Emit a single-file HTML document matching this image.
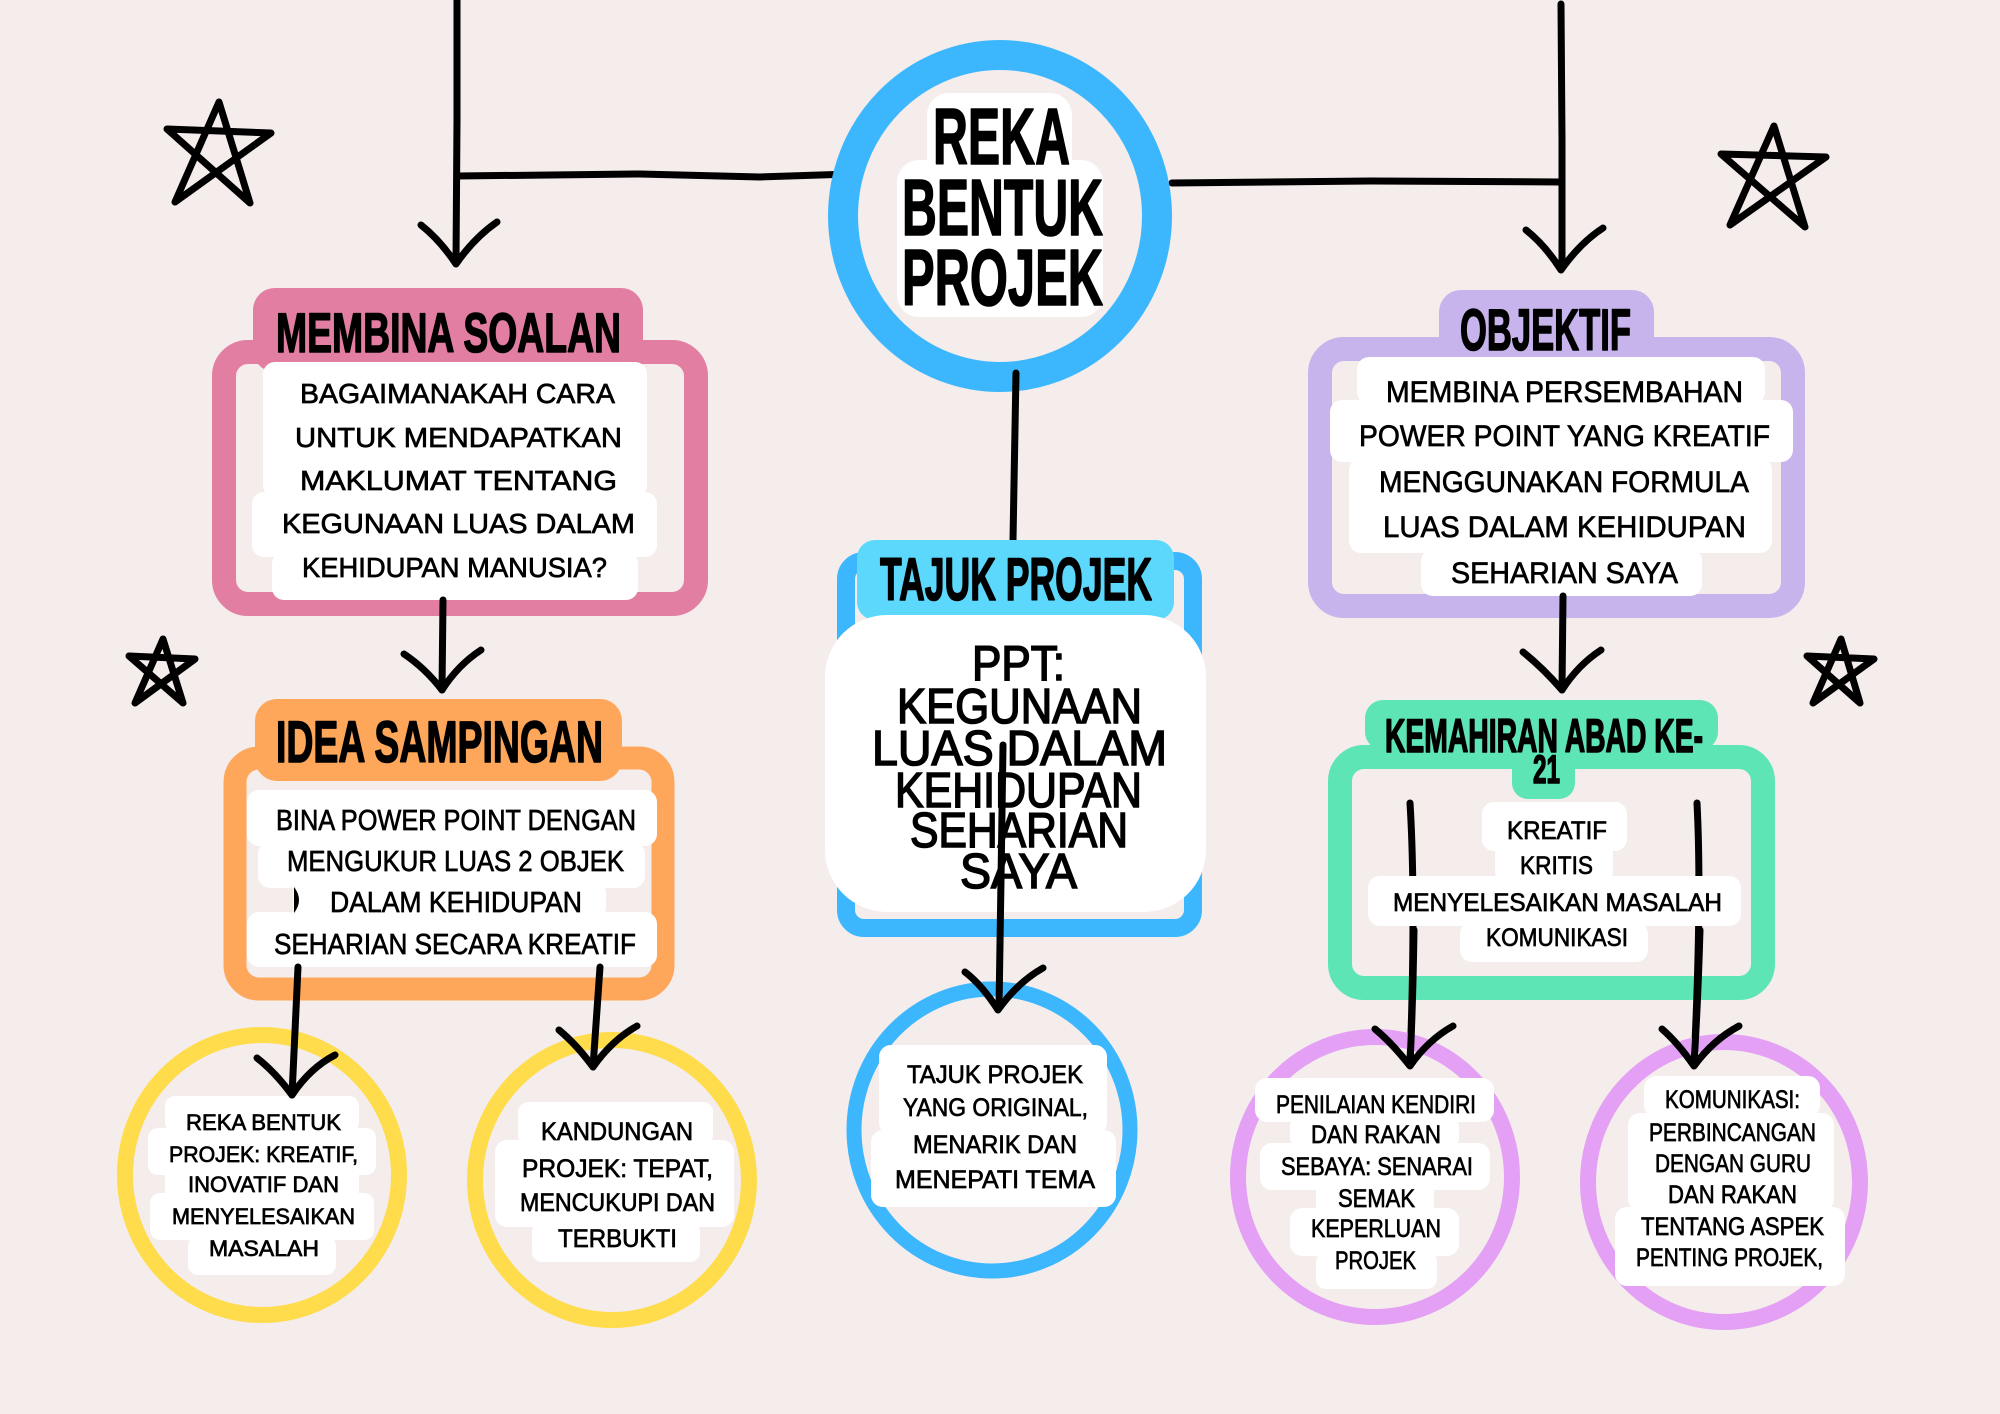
<!DOCTYPE html>
<html>
<head>
<meta charset="utf-8">
<style>
html,body{margin:0;padding:0;background:#f5ecec;}
svg{display:block;}
.h{font-family:"Liberation Sans",sans-serif;font-weight:bold;fill:#000;stroke:#000;stroke-width:1.6;stroke-linejoin:round;}
.t{font-family:"Liberation Sans",sans-serif;font-weight:normal;fill:#000;stroke:#000;stroke-width:0.7;}
.ln{fill:none;stroke:#000;stroke-width:7;stroke-linecap:round;stroke-linejoin:round;}
</style>
</head>
<body>
<svg width="2000" height="1414" viewBox="0 0 2000 1414" xmlns="http://www.w3.org/2000/svg">
<rect x="0" y="0" width="2000" height="1414" fill="#f5ecec"/>

<!-- ===== connectors top ===== -->
<path class="ln" d="M457,0 L457,120 L456,262"/>
<path class="ln" d="M457,176 L640,174 L760,177 L851,174"/>
<path class="ln" d="M421,225 Q440,240 456,264 Q474,238 497,222"/>

<path class="ln" d="M1561,4 L1562,140 L1562,268"/>
<path class="ln" d="M1172,183 L1370,181 L1561,182"/>
<path class="ln" d="M1526,230 Q1545,245 1561,270 Q1580,243 1603,228"/>

<!-- stars -->
<path class="ln" d="M219,102 L175,202 L271,133 L167,129 L250,203 Z"/>
<path class="ln" d="M163,639 L135,703 L195,659 L129,656 L183,703 Z"/>
<path class="ln" d="M1774,126 L1730,225 L1826,157 L1721,154 L1805,227 Z"/>
<path class="ln" d="M1841,639 L1813,703 L1874,659 L1807,656 L1860,703 Z"/>

<!-- ===== center circle ===== -->
<ellipse cx="1000" cy="216" rx="157" ry="161" fill="none" stroke="#3cb7fd" stroke-width="30"/>
<path d="M1016,373 L1013,540" class="ln"/>
<rect x="927" y="93" width="145" height="90" rx="22" fill="#fff"/>
<rect x="897" y="160" width="206" height="157" rx="22" fill="#fff"/>
<text class="h" x="933" y="164" font-size="80" textLength="137" lengthAdjust="spacingAndGlyphs">REKA</text>
<text class="h" x="902" y="235" font-size="80" textLength="201" lengthAdjust="spacingAndGlyphs">BENTUK</text>
<text class="h" x="902" y="305" font-size="80" textLength="201" lengthAdjust="spacingAndGlyphs">PROJEK</text>

<!-- ===== MEMBINA SOALAN ===== -->
<rect x="224" y="352" width="472" height="252" rx="24" fill="none" stroke="#e27ea2" stroke-width="24"/>
<rect x="253" y="288" width="390" height="84" rx="22" fill="#e27ea2"/>
<text class="h" x="276" y="352" font-size="56" textLength="345" lengthAdjust="spacingAndGlyphs">MEMBINA SOALAN</text>
<rect x="263" y="362" width="384" height="135" rx="12" fill="#fff"/>
<rect x="252" y="492" width="405" height="65" rx="12" fill="#fff"/>
<rect x="272" y="552" width="366" height="48" rx="12" fill="#fff"/>
<text class="t" x="300" y="403" font-size="28" textLength="315" lengthAdjust="spacingAndGlyphs">BAGAIMANAKAH CARA</text>
<text class="t" x="295" y="447" font-size="28" textLength="327" lengthAdjust="spacingAndGlyphs">UNTUK MENDAPATKAN</text>
<text class="t" x="300" y="490" font-size="28" textLength="317" lengthAdjust="spacingAndGlyphs">MAKLUMAT TENTANG</text>
<text class="t" x="282" y="533" font-size="28" textLength="353" lengthAdjust="spacingAndGlyphs">KEGUNAAN LUAS DALAM</text>
<text class="t" x="302" y="577" font-size="28" textLength="305" lengthAdjust="spacingAndGlyphs">KEHIDUPAN MANUSIA?</text>
<path class="ln" d="M443,600 L442,690"/>
<path class="ln" d="M404,654 Q425,668 442,690 Q458,665 481,650"/>

<!-- ===== OBJEKTIF ===== -->
<rect x="1320" y="349" width="473" height="257" rx="24" fill="none" stroke="#c8b4ec" stroke-width="24"/>
<rect x="1439" y="290" width="215" height="81" rx="22" fill="#c8b4ec"/>
<text class="h" x="1460" y="350" font-size="58" textLength="171" lengthAdjust="spacingAndGlyphs">OBJEKTIF</text>
<rect x="1357" y="357" width="408" height="47" rx="12" fill="#fff"/>
<rect x="1330" y="400" width="463" height="62" rx="12" fill="#fff"/>
<rect x="1349" y="458" width="423" height="95" rx="12" fill="#fff"/>
<rect x="1421" y="549" width="281" height="47" rx="12" fill="#fff"/>
<text class="t" x="1386" y="402" font-size="30" textLength="357" lengthAdjust="spacingAndGlyphs">MEMBINA PERSEMBAHAN</text>
<text class="t" x="1359" y="446" font-size="30" textLength="411" lengthAdjust="spacingAndGlyphs">POWER POINT YANG KREATIF</text>
<text class="t" x="1379" y="492" font-size="30" textLength="370" lengthAdjust="spacingAndGlyphs">MENGGUNAKAN FORMULA</text>
<text class="t" x="1383" y="537" font-size="30" textLength="363" lengthAdjust="spacingAndGlyphs">LUAS DALAM KEHIDUPAN</text>
<text class="t" x="1451" y="583" font-size="30" textLength="227" lengthAdjust="spacingAndGlyphs">SEHARIAN SAYA</text>
<path class="ln" d="M1563,596 L1562,690"/>
<path class="ln" d="M1523,652 Q1543,668 1562,690 Q1578,665 1601,650"/>

<!-- ===== TAJUK PROJEK ===== -->
<rect x="846" y="561" width="347" height="367" rx="18" fill="none" stroke="#3cb7fd" stroke-width="18"/>
<rect x="857" y="540" width="317" height="80" rx="18" fill="#5cd8fd"/>
<text class="h" x="880" y="600" font-size="60" textLength="272" lengthAdjust="spacingAndGlyphs">TAJUK PROJEK</text>
<rect x="825" y="615" width="381" height="297" rx="62" fill="#fff"/>
<g class="t" style="stroke-width:1.6">
<text x="972" y="680" font-size="49" textLength="93" lengthAdjust="spacingAndGlyphs">PPT:</text>
<text x="897" y="723" font-size="49" textLength="245" lengthAdjust="spacingAndGlyphs">KEGUNAAN</text>
<text x="872" y="765" font-size="49" textLength="295" lengthAdjust="spacingAndGlyphs">LUAS DALAM</text>
<text x="895" y="807" font-size="49" textLength="247" lengthAdjust="spacingAndGlyphs">KEHIDUPAN</text>
<text x="910" y="847" font-size="49" textLength="218" lengthAdjust="spacingAndGlyphs">SEHARIAN</text>
<text x="960" y="888" font-size="49" textLength="117" lengthAdjust="spacingAndGlyphs">SAYA</text>
</g>

<!-- ===== IDEA SAMPINGAN ===== -->
<rect x="235" y="758" width="428" height="231" rx="24" fill="none" stroke="#fea75a" stroke-width="23"/>
<rect x="255" y="699" width="367" height="82" rx="22" fill="#fea75a"/>
<text class="h" x="276" y="762" font-size="58" textLength="327" lengthAdjust="spacingAndGlyphs">IDEA SAMPINGAN</text>
<rect x="247" y="790" width="410" height="56" rx="12" fill="#fff"/>
<rect x="258" y="842" width="387" height="46" rx="12" fill="#fff"/>
<rect x="293" y="884" width="313" height="32" rx="8" fill="#fff"/>
<rect x="247" y="912" width="410" height="55" rx="12" fill="#fff"/>
<path d="M294,887 Q304,900 294,913 Z" fill="#000"/>
<text class="t" x="276" y="830" font-size="29" textLength="360" lengthAdjust="spacingAndGlyphs">BINA POWER POINT DENGAN</text>
<text class="t" x="287" y="871" font-size="29" textLength="337" lengthAdjust="spacingAndGlyphs">MENGUKUR LUAS 2 OBJEK</text>
<text class="t" x="330" y="912" font-size="29" textLength="252" lengthAdjust="spacingAndGlyphs">DALAM KEHIDUPAN</text>
<text class="t" x="274" y="954" font-size="29" textLength="362" lengthAdjust="spacingAndGlyphs">SEHARIAN SECARA KREATIF</text>

<!-- ===== KEMAHIRAN ===== -->
<rect x="1340" y="757" width="423" height="231" rx="24" fill="none" stroke="#5ee5b6" stroke-width="24"/>
<rect x="1365" y="700" width="353" height="50" rx="18" fill="#5ee5b6"/>
<rect x="1512" y="735" width="63" height="64" rx="16" fill="#5ee5b6"/>
<text class="h" x="1385" y="752" font-size="47" textLength="318" lengthAdjust="spacingAndGlyphs">KEMAHIRAN ABAD KE-</text>
<text class="h" x="1533" y="783" font-size="40" textLength="27" lengthAdjust="spacingAndGlyphs">21</text>
<path class="ln" d="M1410,803 Q1416,900 1410,1064"/>
<path class="ln" d="M1697,803 Q1702,900 1694,1064"/>
<rect x="1482" y="802" width="145" height="49" rx="12" fill="#fff"/>
<rect x="1495" y="845" width="118" height="35" rx="8" fill="#fff"/>
<rect x="1368" y="876" width="373" height="50" rx="12" fill="#fff"/>
<rect x="1460" y="922" width="188" height="40" rx="12" fill="#fff"/>
<text class="t" x="1507" y="839" font-size="25" textLength="100" lengthAdjust="spacingAndGlyphs">KREATIF</text>
<text class="t" x="1520" y="874" font-size="25" textLength="73" lengthAdjust="spacingAndGlyphs">KRITIS</text>
<text class="t" x="1393" y="911" font-size="25" textLength="329" lengthAdjust="spacingAndGlyphs">MENYELESAIKAN MASALAH</text>
<text class="t" x="1486" y="946" font-size="25" textLength="142" lengthAdjust="spacingAndGlyphs">KOMUNIKASI</text>

<!-- ===== bottom circles ===== -->
<!-- yellow 1 -->
<ellipse cx="262" cy="1175" rx="137" ry="140" fill="none" stroke="#fedc4c" stroke-width="16"/>
<rect x="165" y="1096" width="194" height="36" rx="10" fill="#fff"/>
<rect x="148" y="1128" width="228" height="47" rx="10" fill="#fff"/>
<rect x="165" y="1170" width="194" height="27" rx="6" fill="#fff"/>
<rect x="150" y="1193" width="224" height="47" rx="10" fill="#fff"/>
<rect x="188" y="1236" width="148" height="39" rx="10" fill="#fff"/>
<text class="t" x="186" y="1130" font-size="22" textLength="155" lengthAdjust="spacingAndGlyphs">REKA BENTUK</text>
<text class="t" x="169" y="1162" font-size="22" textLength="189" lengthAdjust="spacingAndGlyphs">PROJEK: KREATIF,</text>
<text class="t" x="188" y="1192" font-size="22" textLength="151" lengthAdjust="spacingAndGlyphs">INOVATIF DAN</text>
<text class="t" x="172" y="1224" font-size="22" textLength="183" lengthAdjust="spacingAndGlyphs">MENYELESAIKAN</text>
<text class="t" x="209" y="1256" font-size="22" textLength="110" lengthAdjust="spacingAndGlyphs">MASALAH</text>
<path class="ln" d="M298,967 L292,1095"/>
<path class="ln" d="M257,1058 Q275,1072 292,1095 Q310,1068 335,1055"/>

<!-- yellow 2 -->
<ellipse cx="612" cy="1180" rx="137" ry="140" fill="none" stroke="#fedc4c" stroke-width="16"/>
<rect x="518" y="1102" width="195" height="43" rx="10" fill="#fff"/>
<rect x="495" y="1140" width="239" height="87" rx="12" fill="#fff"/>
<rect x="532" y="1222" width="168" height="40" rx="10" fill="#fff"/>
<text class="t" x="541" y="1140" font-size="25" textLength="152" lengthAdjust="spacingAndGlyphs">KANDUNGAN</text>
<text class="t" x="522" y="1177" font-size="25" textLength="191" lengthAdjust="spacingAndGlyphs">PROJEK: TEPAT,</text>
<text class="t" x="520" y="1211" font-size="25" textLength="195" lengthAdjust="spacingAndGlyphs">MENCUKUPI DAN</text>
<text class="t" x="558" y="1247" font-size="25" textLength="119" lengthAdjust="spacingAndGlyphs">TERBUKTI</text>
<path class="ln" d="M600,967 L593,1067"/>
<path class="ln" d="M559,1030 Q577,1045 593,1067 Q612,1040 637,1026"/>

<!-- blue circle -->
<ellipse cx="992" cy="1130" rx="138" ry="141" fill="none" stroke="#3cb7fd" stroke-width="15"/>
<rect x="879" y="1045" width="228" height="90" rx="12" fill="#fff"/>
<rect x="871" y="1130" width="245" height="77" rx="12" fill="#fff"/>
<text class="t" x="907" y="1083" font-size="25" textLength="176" lengthAdjust="spacingAndGlyphs">TAJUK PROJEK</text>
<text class="t" x="903" y="1116" font-size="25" textLength="185" lengthAdjust="spacingAndGlyphs">YANG ORIGINAL,</text>
<text class="t" x="913" y="1153" font-size="25" textLength="164" lengthAdjust="spacingAndGlyphs">MENARIK DAN</text>
<text class="t" x="895" y="1188" font-size="25" textLength="200" lengthAdjust="spacingAndGlyphs">MENEPATI TEMA</text>
<!-- central arrow over box -->
<path class="ln" d="M1003,745 L1001,880 L999,1008"/>
<path class="ln" d="M965,972 Q982,985 998,1010 Q1018,982 1043,968"/>

<!-- violet 1 -->
<ellipse cx="1375" cy="1177" rx="137" ry="140" fill="none" stroke="#e3a0f4" stroke-width="16"/>
<rect x="1255" y="1078" width="239" height="44" rx="12" fill="#fff"/>
<rect x="1290" y="1118" width="169" height="28" rx="8" fill="#fff"/>
<rect x="1260" y="1143" width="230" height="47" rx="12" fill="#fff"/>
<rect x="1316" y="1186" width="118" height="25" rx="6" fill="#fff"/>
<rect x="1290" y="1208" width="169" height="48" rx="12" fill="#fff"/>
<rect x="1316" y="1252" width="121" height="37" rx="10" fill="#fff"/>
<text class="t" x="1276" y="1113" font-size="25" textLength="200" lengthAdjust="spacingAndGlyphs">PENILAIAN KENDIRI</text>
<text class="t" x="1311" y="1143" font-size="25" textLength="130" lengthAdjust="spacingAndGlyphs">DAN RAKAN</text>
<text class="t" x="1281" y="1175" font-size="25" textLength="192" lengthAdjust="spacingAndGlyphs">SEBAYA: SENARAI</text>
<text class="t" x="1338" y="1207" font-size="25" textLength="77" lengthAdjust="spacingAndGlyphs">SEMAK</text>
<text class="t" x="1311" y="1237" font-size="25" textLength="130" lengthAdjust="spacingAndGlyphs">KEPERLUAN</text>
<text class="t" x="1335" y="1269" font-size="25" textLength="81" lengthAdjust="spacingAndGlyphs">PROJEK</text>

<!-- violet 2 -->
<ellipse cx="1724" cy="1182" rx="136" ry="140" fill="none" stroke="#e3a0f4" stroke-width="16"/>
<rect x="1644" y="1076" width="176" height="41" rx="12" fill="#fff"/>
<rect x="1628" y="1113" width="206" height="98" rx="12" fill="#fff"/>
<rect x="1615" y="1207" width="230" height="79" rx="12" fill="#fff"/>
<text class="t" x="1665" y="1108" font-size="25" textLength="135" lengthAdjust="spacingAndGlyphs">KOMUNIKASI:</text>
<text class="t" x="1649" y="1141" font-size="25" textLength="167" lengthAdjust="spacingAndGlyphs">PERBINCANGAN</text>
<text class="t" x="1655" y="1172" font-size="25" textLength="156" lengthAdjust="spacingAndGlyphs">DENGAN GURU</text>
<text class="t" x="1668" y="1203" font-size="25" textLength="129" lengthAdjust="spacingAndGlyphs">DAN RAKAN</text>
<text class="t" x="1641" y="1235" font-size="25" textLength="183" lengthAdjust="spacingAndGlyphs">TENTANG ASPEK</text>
<text class="t" x="1636" y="1266" font-size="25" textLength="187" lengthAdjust="spacingAndGlyphs">PENTING PROJEK,</text>

<!-- green arrows lower parts + heads drawn over violet circles -->
<path class="ln" d="M1414,930 Q1413,1000 1410,1064"/>
<path class="ln" d="M1700,930 Q1698,1000 1694,1064"/>
<path class="ln" d="M1375,1029 Q1392,1043 1410,1066 Q1428,1040 1453,1026"/>
<path class="ln" d="M1662,1029 Q1678,1043 1694,1066 Q1713,1040 1739,1026"/>
</svg>
</body>
</html>
